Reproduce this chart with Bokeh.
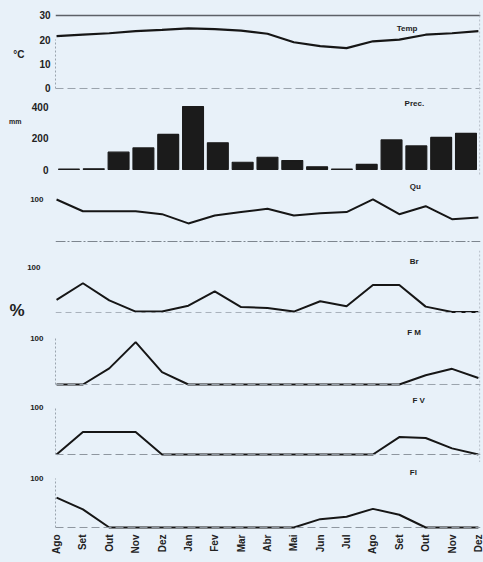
import math
from bokeh.plotting import figure
from bokeh.layouts import column
from bokeh.models import Range1d, FixedTicker, Span, Label, LinearAxis
from bokeh.embed import file_html
from bokeh.resources import INLINE

# ---------------- data ----------------
months = ["Ago", "Set", "Out", "Nov", "Dez", "Jan", "Fev", "Mar", "Abr",
          "Mai", "Jun", "Jul", "Ago", "Set", "Out", "Nov", "Dez"]
temp = [21.5, 22.1, 22.7, 23.6, 24.1, 24.7, 24.4, 23.8, 22.5,
        19.0, 17.4, 16.6, 19.4, 20.1, 22.1, 22.7, 23.6]
prec = [2, 5, 110, 137, 223, 400, 170, 46, 78, 57, 17, 2, 32, 188, 150, 204, 230]
qu = [100, 72, 72, 72, 65, 43, 62, 70, 78, 62, 67, 70, 100, 65, 84, 53, 57]
br = [28, 65, 27, 2, 2, 15, 47, 12, 10, 2, 25, 14, 61, 61, 13, 1, 1]
fm = [0, 0, 35, 92, 27, 0, 0, 0, 0, 0, 0, 0, 0, 0, 20, 34, 14]
fv = [0, 48, 48, 48, 0, 0, 0, 0, 0, 0, 0, 0, 0, 37, 35, 13, 0]
fl = [61, 37, 0, 0, 0, 0, 0, 0, 0, 0, 17, 22, 38, 26, 0, 0, 0]
temp_ticks = [0, 10, 20, 30]
prec_ticks = [0, 200, 400]
pct_ticks = [100]

n = len(months)
xs = list(range(n))
# bars occupy n equal slots across the same span as the monthly points
slot = (n - 1) / n
bar_x = [(i + 0.5) * slot for i in xs]

# ---------------- style ----------------
BG = "#e8f1f9"
INK = "#161616"
FONT = "Liberation Sans"
W = 483
x_range = Range1d(-0.04, 16.08)


def style_axis(ax, standoff, size):
    ax.major_tick_line_color = None
    ax.minor_tick_line_color = None
    ax.major_tick_out = 0
    ax.major_tick_in = 0
    ax.minor_tick_out = 0
    ax.minor_tick_in = 0
    ax.major_label_standoff = standoff
    ax.major_label_text_font = FONT
    ax.major_label_text_font_style = "bold"
    ax.major_label_text_font_size = size
    ax.major_label_text_color = "#222222"


def panel(height, y0, y1, ticks, standoff, tick_size="9px", top=0, bottom=0,
          show_x=False, axis_bounds=None):
    p = figure(width=W, height=height, x_range=x_range, y_range=Range1d(y0, y1),
               output_backend="svg", toolbar_location=None, title=None,
               x_axis_location="below" if show_x else None,
               min_border_left=55, min_border_right=3,
               min_border_top=top, min_border_bottom=bottom)
    p.background_fill_color = BG
    p.border_fill_color = BG
    p.outline_line_color = None
    p.grid.visible = False
    ax = p.yaxis[0]
    ax.ticker = FixedTicker(ticks=ticks)
    style_axis(ax, standoff, tick_size)
    if axis_bounds is None:
        ax.axis_line_color = None
    else:
        ax.bounds = axis_bounds
        ax.axis_line_color = "#9aa4ae"
        ax.axis_line_dash = "2 2"
        ax.axis_line_width = 1
    return p


def unit_axis(p, y, text, size, standoff):
    ax = LinearAxis(ticker=FixedTicker(ticks=[y]), major_label_overrides={y: text})
    ax.axis_line_color = None
    style_axis(ax, standoff, size)
    p.add_layout(ax, "left")


def base(p, loc, color="#8e969f", dash="7 3", width=1.0):
    p.add_layout(Span(location=loc, dimension="width", line_color=color,
                      line_dash=dash, line_width=width))


def right_edge(p):
    p.add_layout(Span(location=16.05, dimension="height", line_color="#b3bcc6",
                      line_dash="2 2", line_width=1))


def tag(p, x, y, text, size="8px"):
    p.add_layout(Label(x=x, y=y, text=text, text_font=FONT, text_font_style="bold",
                       text_font_size=size, text_color="#1e1e1e",
                       text_baseline="middle", text_align="left"))


# Temp
p1 = panel(96, -3.29, 31.64, temp_ticks, 5, tick_size="10px", top=11, axis_bounds=(0, 20))
base(p1, 30, color="#5d6168", dash="solid", width=1.5)
base(p1, 0, color="#9aa3ad", dash="8 4")
right_edge(p1)
p1.line(xs, temp, line_color=INK, line_width=2.2)
tag(p1, 12.9, 24.8, "Temp")
unit_axis(p1, 14, "°C", "10px", 12)

# Prec
p2 = panel(79, -38, 463.5, prec_ticks, 7, tick_size="10px")
right_edge(p2)
p2.vbar(x=bar_x, top=prec, width=0.84 * slot, bottom=0,
        fill_color="#1b1b1b", line_color="#1b1b1b", line_width=1.2)
tag(p2, 13.2, 419, "Prec.")
unit_axis(p2, 305, "mm", "7px", 7)

# Qu
p3 = panel(75, -21.4, 157, pct_ticks, 12, tick_size="8px")
base(p3, 0, color="#7d858e", dash="10 2 2 2", width=1.2)
p3.line(xs, qu, line_color=INK, line_width=2)
tag(p3, 13.4, 131, "Qu")

# Br
p4 = panel(70, -17.8, 137.8, pct_ticks, 15, tick_size="8px")
base(p4, 0, color="#a9b2bc", dash="6 4")
right_edge(p4)
p4.line(xs, br, line_color=INK, line_width=2)
tag(p4, 13.4, 113, "Br")
unit_axis(p4, 4, "%", "17px", 0)

# F M
p5 = panel(72, -17.4, 139, pct_ticks, 12, tick_size="8px", axis_bounds=(0, 100))
base(p5, 0, color="#9aa3ad", dash="8 4")
right_edge(p5)
p5.line(xs, fm, line_color=INK, line_width=2)
tag(p5, 13.3, 113, "F M")

# F V
p6 = panel(70, -17, 131.9, pct_ticks, 12, tick_size="8px", axis_bounds=(0, 100))
base(p6, 0, color="#8e969f", dash="8 4")
right_edge(p6)
p6.line(xs, fv, line_color=INK, line_width=2)
tag(p6, 13.5, 115, "F V")

# Fl
p7 = panel(100, -8.2, 132.7, pct_ticks, 12, tick_size="8px", bottom=31,
           show_x=True, axis_bounds=(0, 100))
base(p7, 0, color="#8e969f", dash="8 4")
p7.line(xs, fl, line_color=INK, line_width=2)
tag(p7, 13.4, 112, "Fl")
xa = p7.xaxis[0]
xa.ticker = FixedTicker(ticks=xs)
xa.major_label_overrides = {i: m for i, m in enumerate(months)}
xa.major_label_orientation = math.pi / 2
style_axis(xa, 3, "10px")
xa.axis_line_color = None

layout = column(p1, p2, p3, p4, p5, p6, p7, spacing=0,
                styles={"background-color": BG})
open("out.html", "w").write(file_html(layout, INLINE))
